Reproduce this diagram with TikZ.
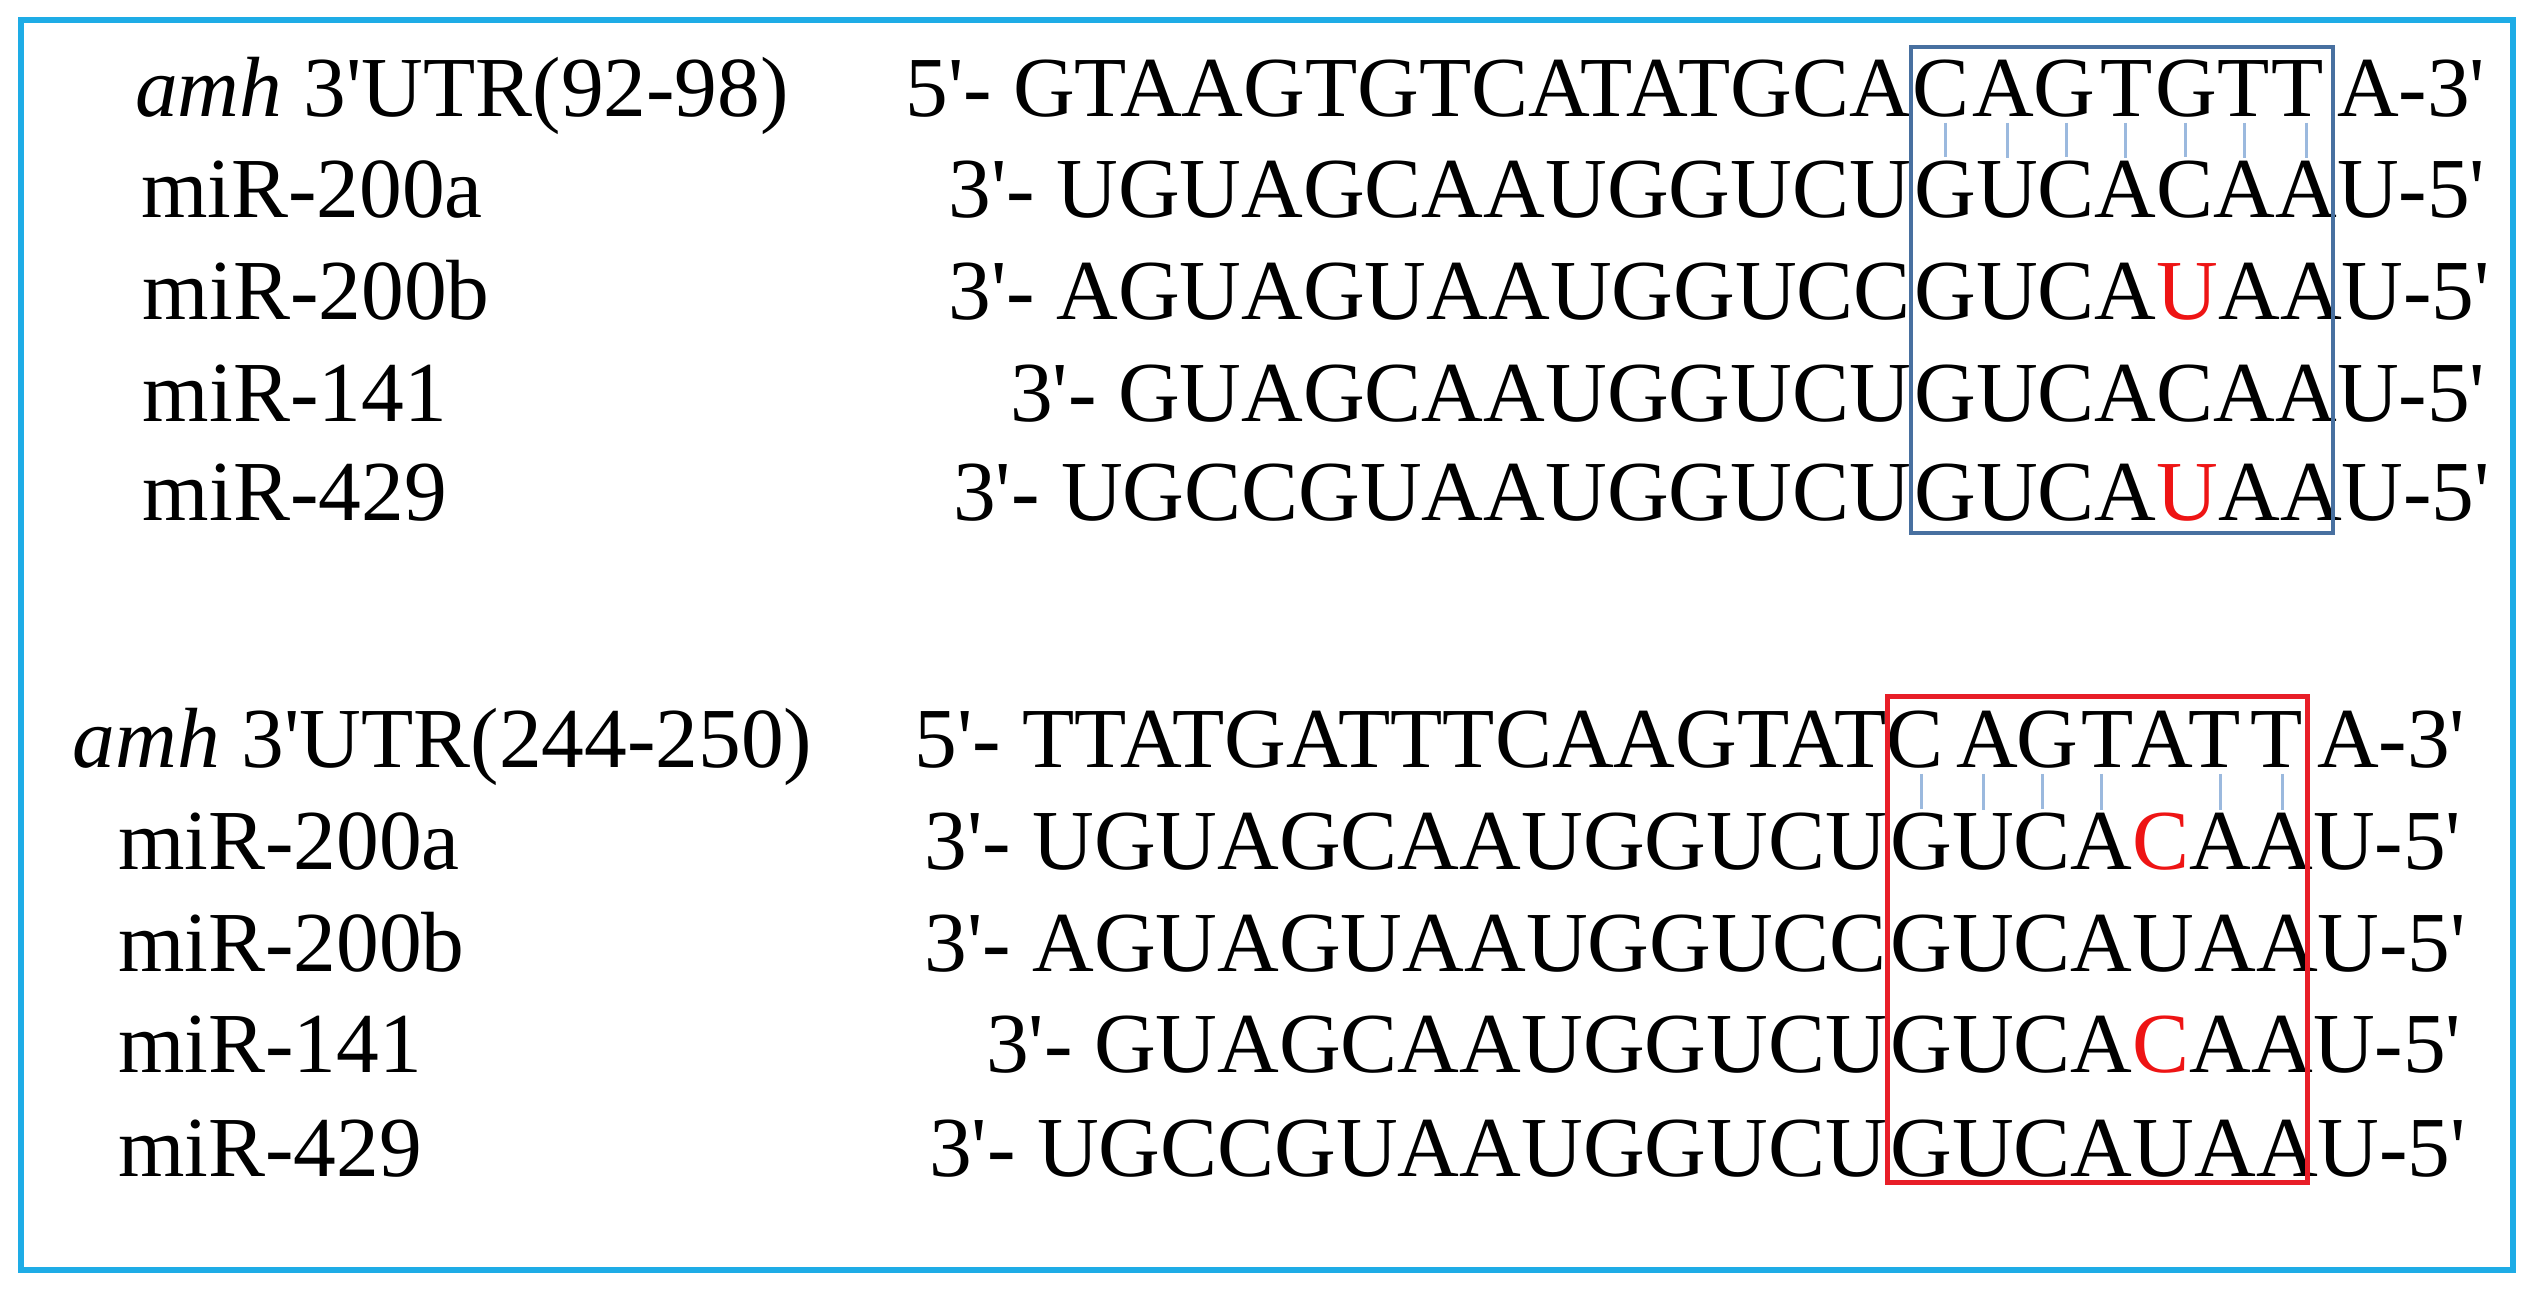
\documentclass[tikz,border=0pt]{standalone}
\usepackage{fontspec}
\newfontfamily\seqf{Liberation Serif}
\definecolor{frameblue}{RGB}{30,172,230}
\definecolor{boxblue}{RGB}{72,112,160}
\definecolor{boxred}{RGB}{232,30,40}
\definecolor{pairblue}{RGB}{155,185,222}
\definecolor{mmred}{RGB}{238,20,20}
% #1 row id, #2 baseline y, #3 label x, #4 label, #5 box left x, #6 prefix, #7 boxed letters
\newcommand\mirrow[7]{%
  \node[txt,anchor=base west] (lab#1) at (#3,#2) {#4};
  \node[txt,anchor=base east] (pre#1) at (#5,#2) {#6};
  \node[txt,anchor=base west] (r#1c0) at (#5,#2) {};
  \foreach \c [count=\i, remember=\i as \j (initially 0)] in {#7}
    \node[txt,anchor=base west] (r#1c\i) at (r#1c\j.base east) {\c};
  \node[txt,anchor=base west] (suf#1) at (r#1c7.base east) {U-5'};
}
\begin{document}
\begin{tikzpicture}[x=0.01cm,y=-0.01cm,
  txt/.style={inner sep=0pt, outer sep=0pt, font=\seqf\fontsize{24.3pt}{29pt}\selectfont},
  pair/.style={draw=pairblue, line width=0.03cm, shorten <=0.06cm, shorten >=0.04cm}]
\useasboundingbox (0,0) rectangle (2535,1295);
\fill[white] (0,0) rectangle (2535,1295);
\draw[frameblue, line width=0.055cm] (21,20) rectangle (2513,1270);

% ---------- top group ----------
\node[txt,anchor=base west] (lab1) at (135,117) {\textit{amh} 3'UTR(92-98)};
\node[txt,anchor=base east] (pre1) at (1911,117) {5'- GTAAGTGTCATATGCA};
\foreach \c/\x [count=\i] in {C/1941,A/2003,G/2064,T/2127,G/2186,T/2244,T/2298}
  \node[txt,anchor=base] (r1c\i) at (\x,117) {\c};
\node[txt,anchor=base west] (suf1) at (2337,117) {A-3'};

\mirrow{2}{218}{141}{miR-200a}{1911}{3'- UGUAGCAAUGGUCU}{G,U,C,A,C,A,A}
\mirrow{3}{320}{143}{miR-200b}{1911}{3'- AGUAGUAAUGGUCC}{G,U,C,A,\textcolor{mmred}{U},A,A}
\mirrow{4}{422}{143}{miR-141}{1911}{3'- GUAGCAAUGGUCU}{G,U,C,A,C,A,A}
\mirrow{5}{521}{143}{miR-429}{1911}{3'- UGCCGUAAUGGUCU}{G,U,C,A,\textcolor{mmred}{U},A,A}

\foreach \i in {1,...,7}
  \draw[pair] (r2c\i.north |- r1c\i.base) -- (r2c\i.north);

\draw[boxblue, line width=0.04cm] (1911,47) rectangle (2333,533);

% ---------- bottom group ----------
\node[txt,anchor=base west] (lab6) at (73,768) {\textit{amh} 3'UTR(244-250)};
\node[txt,anchor=base east] (pre6) at (1887,768) {5'- TTATGATTTCAAGTAT};
\foreach \c/\x [count=\i] in {C/1915,A/1987,G/2047,T/2108,A/2162,T/2215,T/2277}
  \node[txt,anchor=base] (r6c\i) at (\x,768) {\c};
\node[txt,anchor=base west] (suf6) at (2317,768) {A-3'};

\mirrow{7}{870}{118}{miR-200a}{1887}{3'- UGUAGCAAUGGUCU}{G,U,C,A,\textcolor{mmred}{C},A,A}
\mirrow{8}{972}{118}{miR-200b}{1887}{3'- AGUAGUAAUGGUCC}{G,U,C,A,U,A,A}
\mirrow{9}{1073}{118}{miR-141}{1887}{3'- GUAGCAAUGGUCU}{G,U,C,A,\textcolor{mmred}{C},A,A}
\mirrow{10}{1177}{118}{miR-429}{1887}{3'- UGCCGUAAUGGUCU}{G,U,C,A,U,A,A}

\foreach \i in {1,2,3,4,6,7}
  \draw[pair] (r7c\i.north |- r6c\i.base) -- (r7c\i.north);

\draw[boxred, line width=0.05cm] (1887,697) rectangle (2307,1183);
\end{tikzpicture}
\end{document}
